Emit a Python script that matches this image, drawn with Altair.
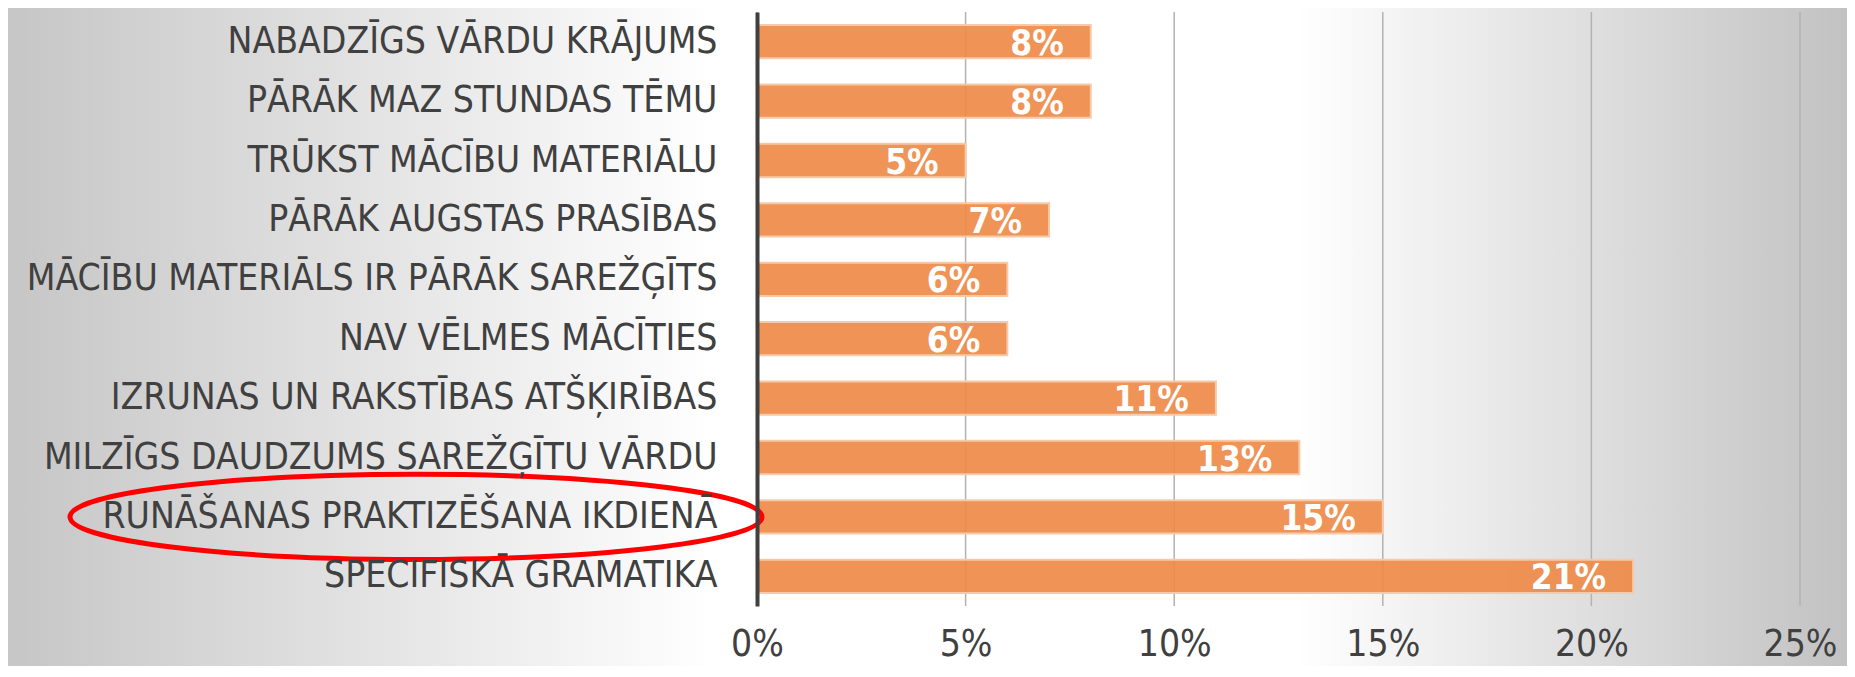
import altair as alt
import pandas as pd

categories = [
    "NABADZĪGS VĀRDU KRĀJUMS",
    "PĀRĀK MAZ STUNDAS TĒMU",
    "TRŪKST MĀCĪBU MATERIĀLU",
    "PĀRĀK AUGSTAS PRASĪBAS",
    "MĀCĪBU MATERIĀLS IR PĀRĀK SAREŽĢĪTS",
    "NAV VĒLMES MĀCĪTIES",
    "IZRUNAS UN RAKSTĪBAS ATŠĶIRĪBAS",
    "MILZĪGS DAUDZUMS SAREŽĢĪTU VĀRDU",
    "RUNĀŠANAS PRAKTIZĒŠANA IKDIENĀ",
    "SPECIFISKĀ GRAMATIKA",
]
values = [0.08, 0.08, 0.05, 0.07, 0.06, 0.06, 0.11, 0.13, 0.15, 0.21]
x_ticks = [0.0, 0.05, 0.10, 0.15, 0.20, 0.25]
highlight = ["RUNĀŠANAS PRAKTIZĒŠANA IKDIENĀ"]

W, H = 1043, 594
PAD = {"left": 749, "top": 4, "right": 47, "bottom": 60}
FONT = "Liberation Sans Narrow, DejaVu Sans Condensed, Roboto Condensed, Roboto, sans-serif"
TXT = "#404040"

df = pd.DataFrame({"cat": categories, "value": values})
xscale = alt.Scale(domain=[0, 0.25], nice=False, zero=True)
yscale = alt.Scale(domain=categories, paddingInner=0.44, paddingOuter=0.22)

xaxis = alt.Axis(values=x_ticks, format=".0%", title=None, grid=False,
                 domain=False, ticks=False, labelFont=FONT,
                 labelFontSize=37, labelColor=TXT, labelPadding=20,
                 labelFlush=False, zindex=2)
yaxis = alt.Axis(title=None, grid=False, ticks=False, labelFont=FONT,
                 labelFontSize=37, labelColor=TXT, labelPadding=40,
                 labelLimit=0, domainColor="#404040", domainWidth=4,
                 zindex=2)

bg_grad = alt.LinearGradient(
    gradient="linear", x1=0, x2=1, y1=0, y2=0,
    stops=[
        alt.GradientStop(offset=0.0, color="#C6C6C6"),
        alt.GradientStop(offset=0.385, color="#FFFFFF"),
        alt.GradientStop(offset=0.70, color="#FFFFFF"),
        alt.GradientStop(offset=1.0, color="#C2C2C2"),
    ],
)

bg = alt.Chart(pd.DataFrame({"k": [0]})).mark_rect(fill=bg_grad).encode(
    x=alt.value(-PAD["left"]), x2=alt.value(W + PAD["right"]),
    y=alt.value(-PAD["top"]), y2=alt.value(H + PAD["bottom"]),
)

grid = alt.Chart(pd.DataFrame({"t": x_ticks})).mark_rule(
    color="#B2B2B2", strokeWidth=1.5
).encode(
    x=alt.X("t:Q", scale=xscale, axis=xaxis),
    y=alt.value(0), y2=alt.value(H),
)

bars = alt.Chart(df).mark_bar(
    fill="#EE8B48", fillOpacity=0.92, stroke="#F6C9A8", strokeWidth=2
).encode(
    x=alt.X("value:Q", scale=xscale, axis=xaxis),
    y=alt.Y("cat:N", sort=categories, scale=yscale, axis=yaxis),
)

text = alt.Chart(df).mark_text(
    align="right", baseline="middle", dx=-27, dy=2, color="white",
    fontWeight="bold", font=FONT, fontSize=35,
).encode(
    x=alt.X("value:Q", scale=xscale),
    y=alt.Y("cat:N", sort=categories, scale=yscale),
    text=alt.Text("value:Q", format=".0%"),
)

ELLIPSE = "M -1 0 A 1 0.123 0 1 0 1 0 A 1 0.123 0 1 0 -1 0 Z"
ell = alt.Chart(pd.DataFrame({"cat": highlight})).mark_point(
    shape=ELLIPSE, size=478864, filled=False, color="#FF0000",
    strokeWidth=5, opacity=1,
).encode(
    y=alt.Y("cat:N", sort=categories, scale=yscale),
    x=alt.value(-341),
)

chart = alt.layer(bg, grid, bars, text, ell).properties(
    width=W, height=H,
    autosize=alt.AutoSizeParams(type="none"),
    padding=PAD,
).configure_view(stroke=None)

chart.save("out.html", embed_options={"renderer": "svg", "actions": False})
